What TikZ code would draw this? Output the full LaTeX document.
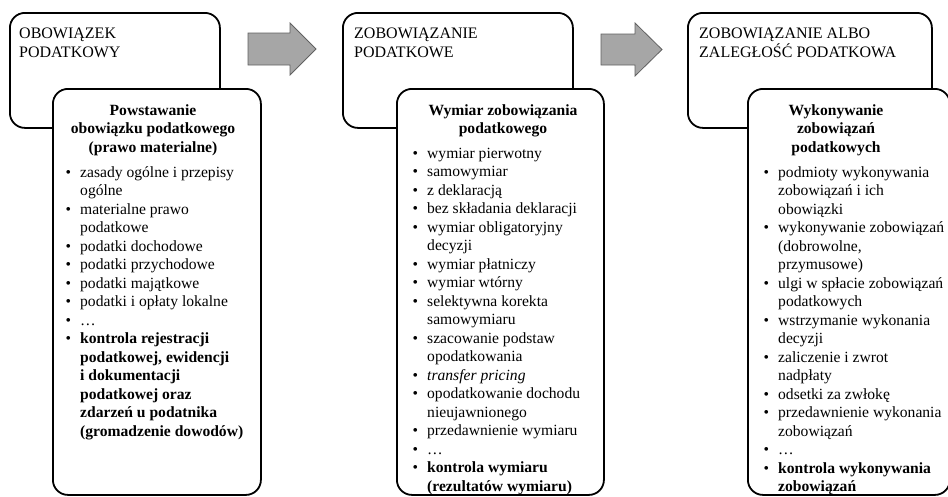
\documentclass[tikz,border=0pt]{standalone}
\usepackage{fontspec}
\setmainfont{Liberation Serif}
\newcommand{\mybul}{\llap{\textbullet\hspace{9pt}}}
\begin{document}
\begin{tikzpicture}[x=1pt,y=-1pt,
  frame/.style={draw=black, line width=1.8pt, rounded corners=15pt, fill=white, inner sep=0pt, anchor=north west},
  blockarrow/.style={draw=black!62, fill=black!35, line width=0.8pt, line join=miter},
  titletext/.style={anchor=base west, inner sep=0pt, font=\fontsize{16}{18.5}\selectfont},
  headtext/.style={anchor=base, inner sep=0pt, font=\fontsize{15.6}{18.5}\selectfont\bfseries},
  listtext/.style={anchor=base west, inner sep=0pt, font=\fontsize{15.6}{18.5}\selectfont}]
\useasboundingbox (0,0) rectangle (948,496);

% top boxes
\node[frame, minimum width=210pt, minimum height=115pt] (t1) at (9,12) {};
\node[frame, minimum width=230pt, minimum height=115pt] (t2) at (342,12) {};
\node[frame, minimum width=244pt, minimum height=115pt] (t3) at (687,12) {};

\node[titletext] (tt1) at (19,38.5) {\begin{tabular}[t]{@{}l@{}}OBOWIĄZEK\\PODATKOWY\end{tabular}};
\node[titletext] (tt2) at (354,38.5) {\begin{tabular}[t]{@{}l@{}}ZOBOWIĄZANIE\\PODATKOWE\end{tabular}};
\node[titletext] (tt3) at (699,38.5) {\begin{tabular}[t]{@{}l@{}}ZOBOWIĄZANIE ALBO\\ZALEGŁOŚĆ PODATKOWA\end{tabular}};

% block arrows
\draw[blockarrow] (248,33) -- (290,33) -- (290,23) -- (316,49) -- (290,75) -- (290,65) -- (248,65) -- cycle;
\draw[blockarrow] (601,34) -- (635,34) -- (635,23) -- (662,49.5) -- (635,76) -- (635,65) -- (601,65) -- cycle;

% inner boxes
\node[frame, minimum width=208pt, minimum height=406pt] (b1) at (52,88) {};
\node[frame, minimum width=207pt, minimum height=406pt] (b2) at (396,88) {};
\node[frame, minimum width=202pt, minimum height=406pt] (b3) at (747,88) {};

\node[headtext] (h1) at (153,115) {\begin{tabular}[t]{@{}c@{}}Powstawanie\\obowiązku podatkowego\\(prawo materialne)\end{tabular}};
\node[headtext] (h2) at (503,115) {\begin{tabular}[t]{@{}c@{}}Wymiar zobowiązania\\podatkowego\end{tabular}};
\node[headtext] (h3) at (836,115) {\begin{tabular}[t]{@{}c@{}}Wykonywanie\\zobowiązań\\podatkowych\end{tabular}};

\node[listtext] (l1) at (80,177) {\begin{tabular}[t]{@{}l@{}}
\mybul zasady ogólne i przepisy\\
ogólne\\
\mybul materialne prawo\\
podatkowe\\
\mybul podatki dochodowe\\
\mybul podatki przychodowe\\
\mybul podatki majątkowe\\
\mybul podatki i opłaty lokalne\\
\mybul …\\
\mybul \textbf{kontrola rejestracji}\\
\textbf{podatkowej, ewidencji}\\
\textbf{i dokumentacji}\\
\textbf{podatkowej oraz}\\
\textbf{zdarzeń u podatnika}\\
\textbf{(gromadzenie dowodów)}
\end{tabular}};

\node[listtext] (l2) at (427,158) {\begin{tabular}[t]{@{}l@{}}
\mybul wymiar pierwotny\\
\mybul samowymiar\\
\mybul z deklaracją\\
\mybul bez składania deklaracji\\
\mybul wymiar obligatoryjny\\
decyzji\\
\mybul wymiar płatniczy\\
\mybul wymiar wtórny\\
\mybul selektywna korekta\\
samowymiaru\\
\mybul szacowanie podstaw\\
opodatkowania\\
\mybul \textit{transfer pricing}\\
\mybul opodatkowanie dochodu\\
nieujawnionego\\
\mybul przedawnienie wymiaru\\
\mybul …\\
\mybul \textbf{kontrola wymiaru}\\
\textbf{(rezultatów wymiaru)}
\end{tabular}};

\node[listtext] (l3) at (778,177) {\begin{tabular}[t]{@{}l@{}}
\mybul podmioty wykonywania\\
zobowiązań i ich\\
obowiązki\\
\mybul wykonywanie zobowiązań\\
(dobrowolne,\\
przymusowe)\\
\mybul ulgi w spłacie zobowiązań\\
podatkowych\\
\mybul wstrzymanie wykonania\\
decyzji\\
\mybul zaliczenie i zwrot\\
nadpłaty\\
\mybul odsetki za zwłokę\\
\mybul przedawnienie wykonania\\
zobowiązań\\
\mybul …\\
\mybul \textbf{kontrola wykonywania}\\
\textbf{zobowiązań}
\end{tabular}};
\end{tikzpicture}
\end{document}
